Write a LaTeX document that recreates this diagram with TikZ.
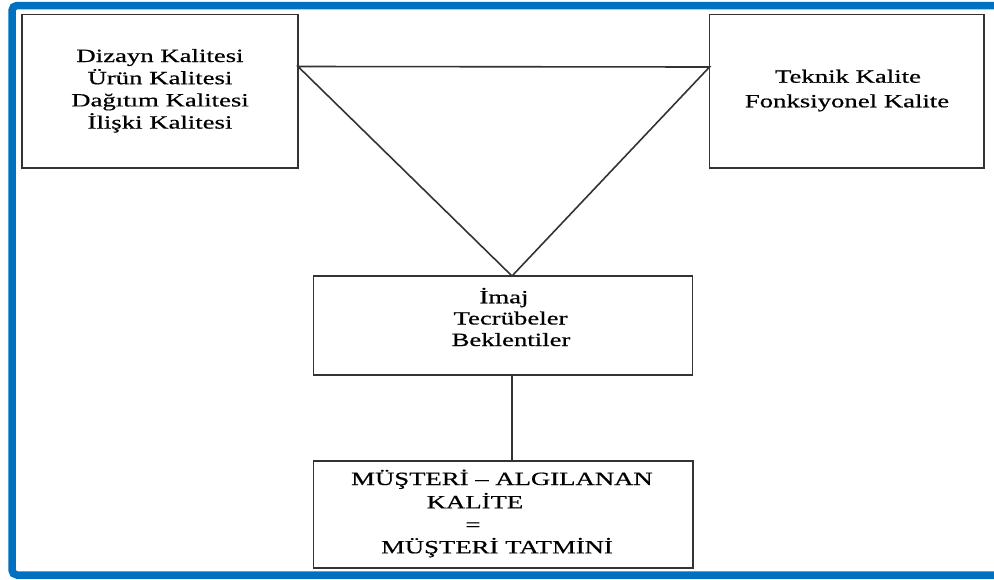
\documentclass[tikz,border=0pt]{standalone}
\usepackage{fontspec}
\setmainfont{Liberation Serif}[FakeStretch=1.43,FakeBold=0.6]
\definecolor{frameblue}{HTML}{0070C0}
\definecolor{linegray}{HTML}{333333}
\tikzset{
  box/.style={draw=linegray, line width=1.8pt},
  conn/.style={draw=linegray, line width=1.6pt},
  txt/.style={anchor=base, inner sep=0pt, font=\fontsize{18.7}{22}\selectfont}
}
\begin{document}
\begin{tikzpicture}[x=1pt,y=-1pt]
\useasboundingbox (0,0) rectangle (994,579);
\begin{scope}
\clip (0,0) rectangle (994,579);
\draw[frameblue, line width=7.5pt, rounded corners=5pt] (12,5.5) rectangle (1020,575);
\end{scope}
% boxes
\draw[box] (22,14.5) rectangle (298,168);
\draw[box] (709.5,14.5) rectangle (984,168);
\draw[box] (313.5,276) rectangle (692.5,375);
\draw[box] (313.5,461) rectangle (693,568);
% connector points
\coordinate (L) at (298,66.5);
\coordinate (R) at (709.5,67);
\coordinate (M) at (512,276);
\coordinate (Mb) at (512,375);
\coordinate (B) at (512,461);
\draw[conn, line join=miter] (L) -- (R) -- (M) -- cycle;
\draw[conn] (Mb) -- (B);
% texts
\node[txt] (l1) at (160,62) {Dizayn Kalitesi};
\node[txt] (l2) at (160,84.2) {Ürün Kalitesi};
\node[txt] (l3) at (160,106.4) {Dağıtım Kalitesi};
\node[txt] (l4) at (160,128.6) {İlişki Kalitesi};
\node[txt] (r1) at (848,82.7) {Teknik Kalite};
\node[txt] (r2) at (847,107.3) {Fonksiyonel Kalite};
\node[txt] (m1) at (504,303.3) {İmaj};
\node[txt] (m2) at (510.5,324.5) {Tecrübeler};
\node[txt] (m3) at (511,346) {Beklentiler};
\node[txt] (b1) at (502,485) {MÜŞTERİ – ALGILANAN};
\node[txt] (b2) at (475,508.3) {KALİTE};
\node[txt] (b3) at (473,531) {=};
\node[txt] (b4) at (497,553.3) {MÜŞTERİ TATMİNİ};
\end{tikzpicture}
\end{document}
